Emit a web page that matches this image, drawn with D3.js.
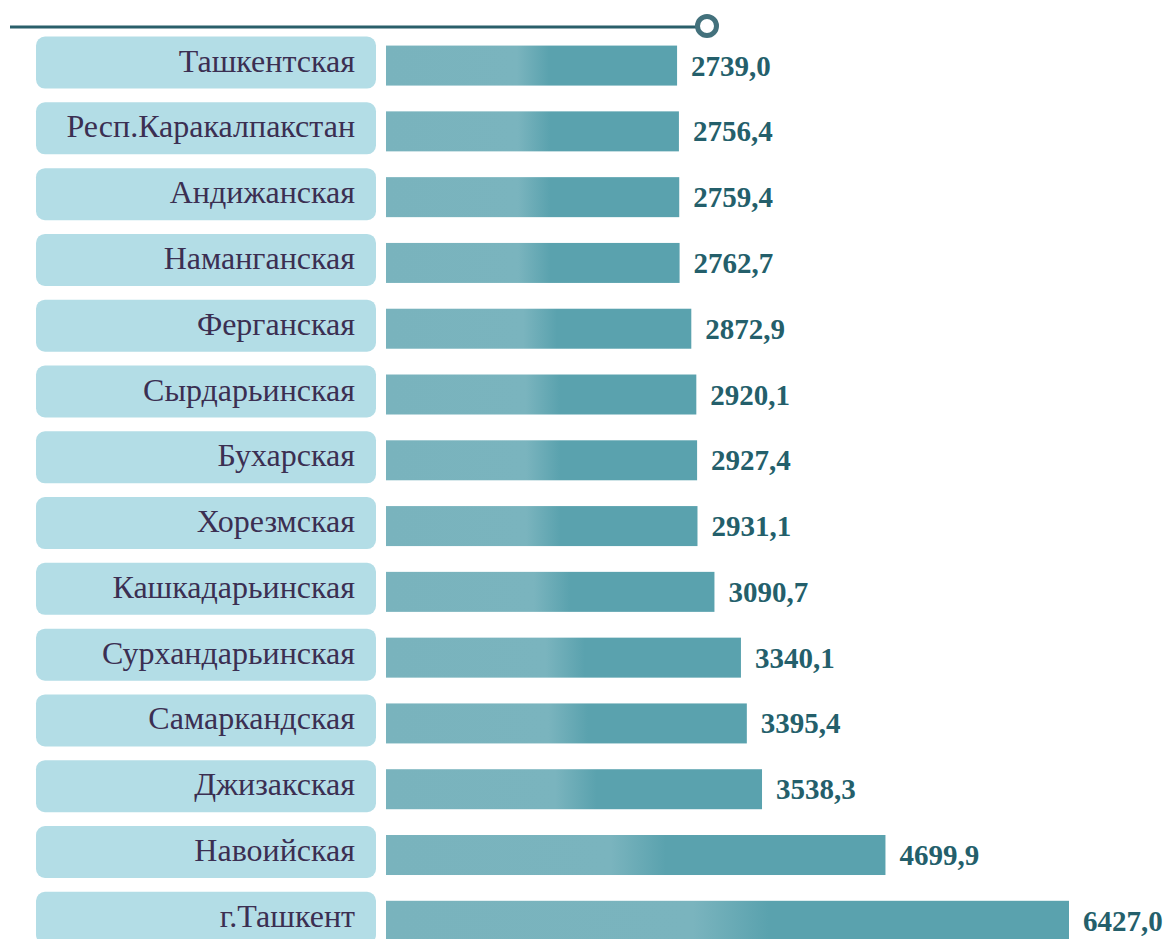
<!DOCTYPE html>
<html lang="ru">
<head>
<meta charset="utf-8">
<style>
  body { margin: 0; background: #fff; }
  svg { display: block; }
  .lbl { font: 32px "Liberation Serif", "Times New Roman", serif; fill: #3b2f52; }
  .val { font: bold 29px "Liberation Serif", "Times New Roman", serif; fill: #245f6b; }
</style>
</head>
<body>
<svg id="chart" width="1168" height="939"></svg>
<script src="https://cdn.jsdelivr.net/npm/d3@7"></script>
<script>
// regions, top to bottom
var regions = ["Ташкентская", "Респ.Каракалпакстан", "Андижанская", "Наманганская",
  "Ферганская", "Сырдарьинская", "Бухарская", "Хорезмская", "Кашкадарьинская",
  "Сурхандарьинская", "Самаркандская", "Джизакская", "Навоийская", "г.Ташкент"];
var values = [2739.0, 2756.4, 2759.4, 2762.7, 2872.9, 2920.1, 2927.4, 2931.1,
  3090.7, 3340.1, 3395.4, 3538.3, 4699.9, 6427.0];

var svg = d3.select("#chart");

var x = d3.scaleLinear().domain([0, 6427]).range([386, 1069]);
var y = d3.scaleBand().domain(regions).range([39, 960]).paddingInner(0.2).paddingOuter(0.1);

var fmt = function(v) { return v.toFixed(1).replace(".", ","); };

var grad = svg.append("defs").append("linearGradient")
    .attr("id", "barGrad").attr("x1", "0%").attr("x2", "100%");
grad.append("stop").attr("offset", "0%").attr("stop-color", "#79b3bd");
grad.append("stop").attr("offset", "45%").attr("stop-color", "#7ab4be");
grad.append("stop").attr("offset", "56%").attr("stop-color", "#5aa2ae");
grad.append("stop").attr("offset", "100%").attr("stop-color", "#5aa2ae");

// top rule with ring
svg.append("line").attr("x1", 10).attr("x2", 697).attr("y1", 27).attr("y2", 27)
  .attr("stroke", "#2a5f6a").attr("stroke-width", 3);
svg.append("circle").attr("cx", 707).attr("cy", 26).attr("r", 9.5)
  .attr("fill", "#fff").attr("stroke", "#43717c").attr("stroke-width", 5);

var row = svg.selectAll("g.row").data(regions).enter().append("g").attr("class", "row");

// label boxes
row.append("rect")
  .attr("x", 36).attr("width", 340)
  .attr("y", function(d) { return y(d) - 9; })
  .attr("height", 52).attr("rx", 9)
  .attr("fill", "#b3dde6");

row.append("text").attr("class", "lbl")
  .attr("x", 355)
  .attr("y", function(d) { return y(d) + 26; })
  .attr("text-anchor", "end")
  .text(function(d) { return d; });

// bars
row.append("rect")
  .attr("x", x(0))
  .attr("y", function(d) { return y(d); })
  .attr("height", 40)
  .attr("width", function(d, i) { return x(values[i]) - x(0); })
  .attr("fill", "url(#barGrad)");

row.append("text").attr("class", "val")
  .attr("x", function(d, i) { return x(values[i]) + 14; })
  .attr("y", function(d) { return y(d) + 30; })
  .text(function(d, i) { return fmt(values[i]); });
</script>
</body>
</html>
